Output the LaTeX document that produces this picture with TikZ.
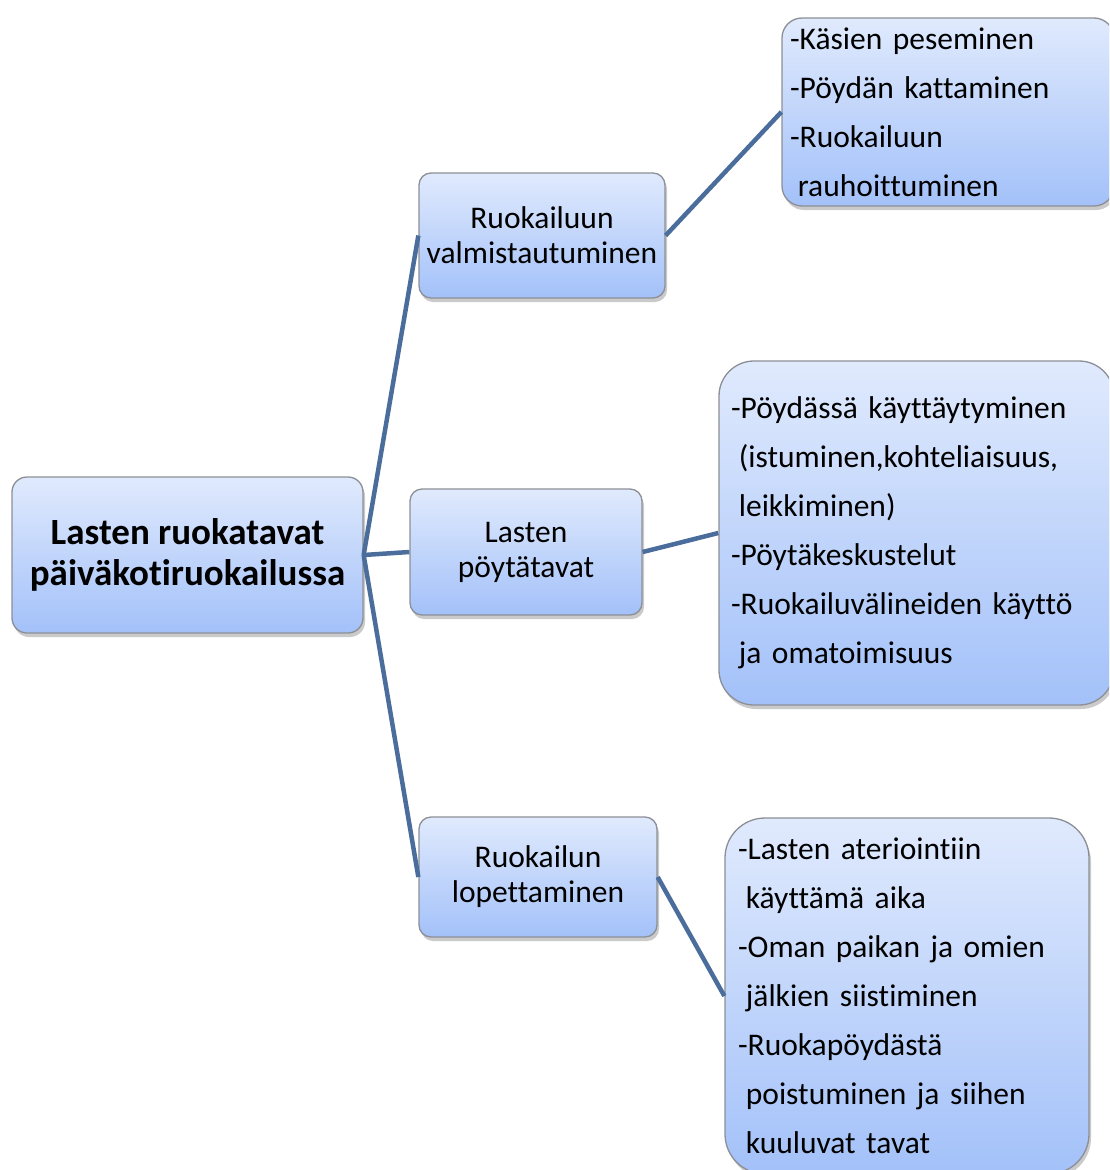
\documentclass[tikz,border=0pt]{standalone}
\usepackage{fontspec}
\setmainfont{Carlito}[Ligatures={NoCommon}]
\usepackage{xcolor}
\usetikzlibrary{shadows}
\definecolor{boxtop}{HTML}{E0EAFD}
\definecolor{boxbot}{HTML}{A3C1F9}
\definecolor{boxline}{HTML}{8C8F96}
\definecolor{linkblue}{HTML}{4A6D9C}

\begin{document}
\begin{tikzpicture}[x=1pt, y=-1pt,
  box/.style={draw=boxline, line width=1.3pt, top color=boxtop, bottom color=boxbot,
    drop shadow={shadow xshift=2pt, shadow yshift=-4pt, opacity=.35, fill=black!60},
    inner sep=0pt, align=center},
  midbox/.style={box, rounded corners=12pt, font=\fontsize{31.5}{35}\selectfont},
  listbox/.style={box, align=left, font=\fontsize{31.5}{49}\selectfont},
  link/.style={draw=linkblue, line width=4.5pt}]
\useasboundingbox (0,0) rectangle (1109,1170);
\clip (0,0) rectangle (1109,1170);

\node[box, rounded corners=15pt, minimum width=351pt, minimum height=156pt,
  font=\bfseries\fontsize{37}{41}\selectfont] (root) at (187.5,555)
  {Lasten ruokatavat\\päiväkotiruokailussa};

\node[midbox, minimum width=246pt, minimum height=125pt] (prep) at (542,235.5)
  {Ruokailuun\\valmistautuminen};
\node[midbox, minimum width=232pt, minimum height=126pt] (table) at (526,552)
  {Lasten\\pöytätavat};
\node[midbox, minimum width=238pt, minimum height=120pt] (end) at (538,877)
  {Ruokailun\\lopettaminen};

\node[listbox, rounded corners=20pt, minimum width=332pt, minimum height=188pt,
  inner xsep=8pt, text width=316pt] (prepList) at (948,112)
  {-Käsien peseminen\\-Pöydän kattaminen\\-Ruokailuun\\\hspace*{.25em}rauhoittuminen};
\node[listbox, rounded corners=35pt, minimum width=395pt, minimum height=344pt,
  inner xsep=12pt, text width=371pt] (tableList) at (916.5,533)
  {-Pöydässä käyttäytyminen\\\hspace*{.25em}(istuminen,kohteliaisuus,\\\hspace*{.25em}leikkiminen)\\-Pöytäkeskustelut\\-Ruokailuvälineiden käyttö\\\hspace*{.25em}ja omatoimisuus};
\node[listbox, rounded corners=40pt, minimum width=364pt, minimum height=356pt,
  inner xsep=13pt, text width=338pt] (endList) at (907,996)
  {-Lasten ateriointiin\\\hspace*{.25em}käyttämä aika\\-Oman paikan ja omien\\\hspace*{.25em}jälkien siistiminen\\-Ruokapöydästä\\\hspace*{.25em}poistuminen ja siihen\\\hspace*{.25em}kuuluvat tavat};

\foreach \from/\to in {root/prep, root/table, root/end, prep/prepList, table/tableList, end/endList}
  \draw[link] (\from.east) -- (\to.west);
\end{tikzpicture}
\end{document}
